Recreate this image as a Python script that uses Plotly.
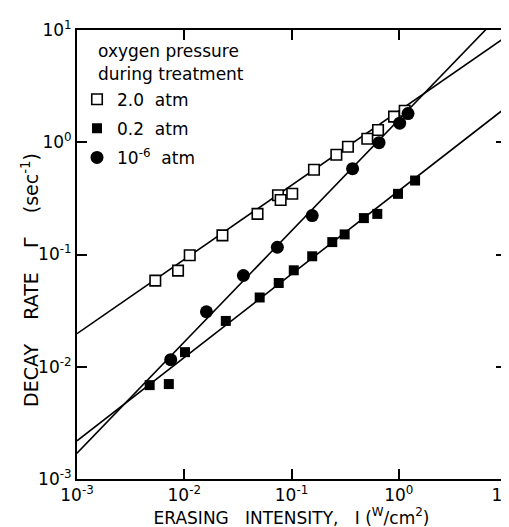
import plotly.graph_objects as go

# ---- data ----
I_2atm = [0.00537, 0.00875, 0.01125, 0.0227, 0.0482, 0.0748, 0.0792, 0.1016,
          0.162, 0.262, 0.336, 0.509, 0.641, 0.904, 1.136]
G_2atm = [0.0585, 0.0718, 0.0984, 0.148, 0.230, 0.337, 0.306, 0.348,
          0.569, 0.774, 0.912, 1.076, 1.285, 1.69, 1.91]

I_02atm = [0.00476, 0.00718, 0.01016, 0.0244, 0.0505, 0.0760, 0.105, 0.156,
           0.240, 0.313, 0.473, 0.631, 0.984, 1.42]
G_02atm = [0.00686, 0.00701, 0.01349, 0.0256, 0.0414, 0.0557, 0.0723, 0.0964,
           0.129, 0.151, 0.211, 0.230, 0.347, 0.456]

I_1e6 = [0.00748, 0.0161, 0.0356, 0.0738, 0.156, 0.371, 0.655, 1.02, 1.22]
G_1e6 = [0.01156, 0.0309, 0.0650, 0.116, 0.222, 0.581, 0.991, 1.48, 1.80]

# fitted straight lines (end values read at I = 1e-3 and I = 10)
fit_I = [1e-3, 10]
fit_2atm = [0.0197, 8.7]
fit_02atm = [0.00219, 2.04]
fit_1e6 = [0.0017, 15.5]

tick_vals = [1e-3, 1e-2, 1e-1, 1, 10]
tick_text = ["10<sup>-3</sup>", "10<sup>-2</sup>", "10<sup>-1</sup>",
             "10<sup>0</sup>", "10<sup>1</sup>"]

FONT = "DejaVu Sans"
NB = "\u00a0"
fig = go.Figure()

for fy in (fit_2atm, fit_02atm, fit_1e6):
    fig.add_trace(go.Scatter(x=fit_I, y=fy, mode="lines",
                             line=dict(color="black", width=1.6),
                             showlegend=False, hoverinfo="skip"))

fig.add_trace(go.Scatter(x=I_2atm, y=G_2atm, mode="markers", name=f"2.0{NB*2}atm",
                         legendgroup="a",
                         marker=dict(symbol="square", size=10.5, color="white",
                                     line=dict(color="black", width=1.6))))
fig.add_trace(go.Scatter(x=I_02atm, y=G_02atm, mode="markers", name=f"0.2{NB*2}atm",
                         legendgroup="b",
                         marker=dict(symbol="square", size=10, color="black",
                                     line=dict(color="black", width=0))))
fig.add_trace(go.Scatter(x=I_1e6, y=G_1e6, mode="markers",
                         name=f"10<sup>-6</sup>{NB*2}atm", legendgroup="c",
                         marker=dict(symbol="circle", size=13, color="black",
                                     line=dict(color="black", width=0))))

axis_common = dict(type="log", range=[-3, 1], showgrid=False, zeroline=False,
                   showline=True, linecolor="black", linewidth=2, mirror="allticks",
                   ticks="inside", ticklen=10, tickwidth=1.5, tickcolor="black",
                   tickvals=tick_vals, ticktext=tick_text, automargin=False,
                   tickfont=dict(family=FONT, size=17, color="black"))

fig.update_xaxes(**axis_common, ticklabeloverflow="allow",
                 title=dict(text=f"ERASING{NB*3}INTENSITY,{NB*3}I{NB}(<sup>W</sup>/cm<sup>2</sup>)",
                            font=dict(family=FONT, size=17, color="black"),
                            standoff=4))
fig.update_yaxes(**axis_common, title=None)

fig.add_annotation(text=f"DECAY{NB*4}RATE{NB*4}Γ{NB*4}(sec<sup>-1</sup>)",
                   textangle=-90, xref="paper", yref="paper",
                   x=-0.11, y=0.443, xanchor="center", yanchor="middle",
                   showarrow=False,
                   font=dict(family=FONT, size=19, color="black"))

# legend heading
for txt, ypx in ((f"oxygen{NB}pressure", 43), (f"during{NB}treatment", 66)):
    fig.add_annotation(text=txt, xref="paper", yref="paper",
                       x=(88 - 69) / 429, y=(471 - ypx) / 449,
                       xanchor="left", yanchor="middle", showarrow=False,
                       font=dict(family=FONT, size=17, color="black"))

fig.update_layout(
    width=509, height=527,
    margin=dict(l=69, r=11, t=22, b=56),
    paper_bgcolor="white", plot_bgcolor="white",
    showlegend=True,
    legend=dict(x=0.0, y=0.885, xanchor="left", yanchor="top",
                bgcolor="rgba(0,0,0,0)", borderwidth=0,
                tracegroupgap=4, itemwidth=30,
                font=dict(family=FONT, size=17, color="black")),
)

fig.write_html("out.html")
